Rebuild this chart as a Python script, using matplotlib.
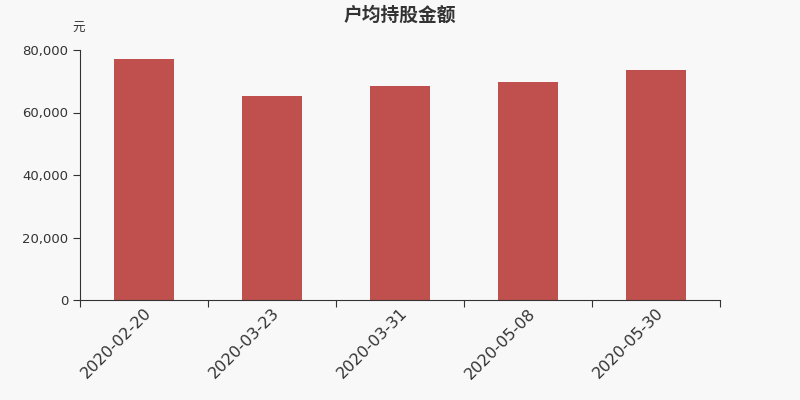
import matplotlib
matplotlib.use('Agg')
import matplotlib.pyplot as plt
import numpy as np
from matplotlib.ticker import FuncFormatter

plt.rcParams['font.family'] = ['Noto Sans CJK SC', 'DejaVu Sans']

# data
dates = ['2020-02-20', '2020-03-23', '2020-03-31', '2020-05-08', '2020-05-30']
amount = [77200, 65300, 68400, 69900, 73500]
title = '户均持股金额'
unit = '元'

bg = '#f8f8f8'
bar_color = '#c0504d'
axis_color = '#333333'

fig = plt.figure(figsize=(8, 4), dpi=100, facecolor=bg)
ax = fig.add_axes([0.1, 0.25, 0.8, 0.625])
ax.set_facecolor(bg)

x = np.arange(len(dates))
ax.bar(x, amount, width=0.47, color=bar_color, zorder=2)

ax.set_xlim(-0.5, len(dates) - 0.5)
ax.set_ylim(0, 80000)
ax.set_yticks([0, 20000, 40000, 60000, 80000])
ax.yaxis.set_major_formatter(FuncFormatter(lambda v, p: f'{int(v):,}'))

# ticks between categories, labels under the bars
ax.set_xticks(np.arange(len(dates) + 1) - 0.5)
ax.set_xticklabels([])
ax.set_xticks(x, minor=True)
ax.set_xticklabels(dates, minor=True, rotation=45, ha='right',
                   rotation_mode='anchor', fontsize=11.5, color=axis_color,
                   family='DejaVu Sans')
ax.tick_params(axis='x', which='minor', length=0, pad=4)
ax.tick_params(axis='x', which='major', length=5, color=axis_color)
ax.tick_params(axis='y', length=5, color=axis_color, labelsize=9.5,
               labelcolor=axis_color)
for lbl in ax.get_yticklabels():
    lbl.set_family('DejaVu Sans')

for s in ['top', 'right']:
    ax.spines[s].set_visible(False)
for s in ['left', 'bottom']:
    ax.spines[s].set_color(axis_color)

fig.text(0.5, 0.963, title, ha='center', va='center', fontsize=13.5,
         fontweight='bold', color=axis_color)
fig.text(0.098, 0.928, unit, ha='center', va='center', fontsize=9,
         color=axis_color)

fig.savefig('out.png', dpi=100, facecolor=bg)
